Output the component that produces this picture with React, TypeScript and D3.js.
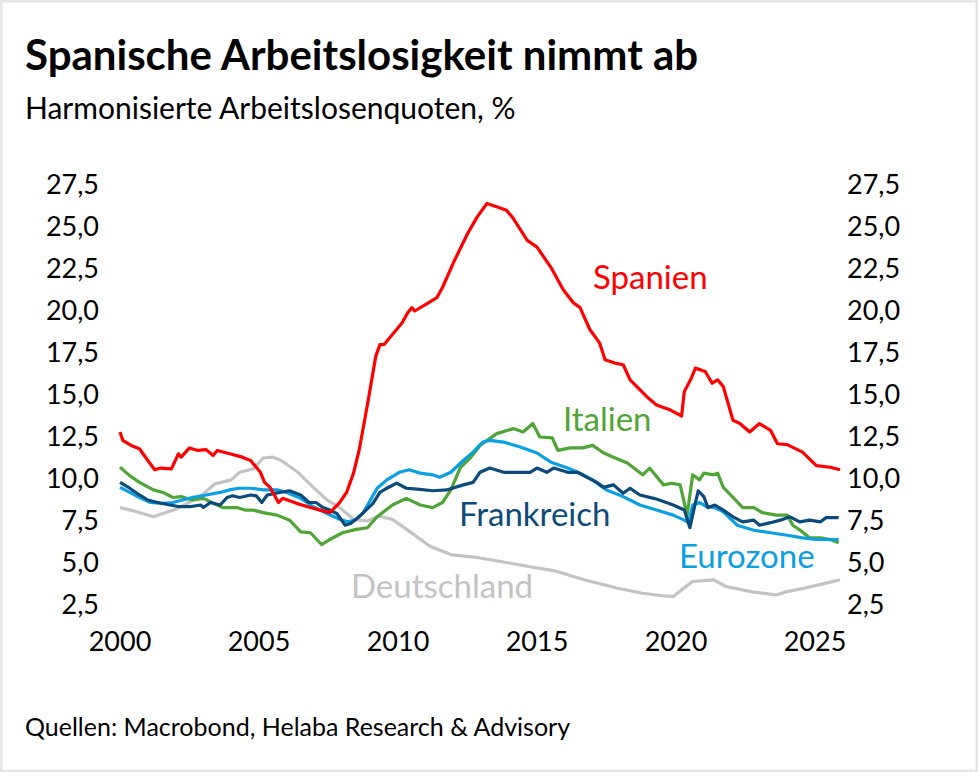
import React from "react";
import * as d3 from "d3";

type Pt = [number, number];

// Harmonisierte Arbeitslosenquoten in %, [Jahr, Wert]
const spanien: Pt[] = [
  [2000.0, 12.8], [2000.1, 12.3], [2000.4, 12.0], [2000.7, 11.8], [2001.0, 11.1], [2001.25, 10.55],
  [2001.45, 10.65], [2001.85, 10.6], [2002.1, 11.5], [2002.2, 11.3], [2002.5, 11.85], [2002.8, 11.7],
  [2003.1, 11.75], [2003.35, 11.4], [2003.5, 11.7], [2003.95, 11.5], [2004.4, 11.3], [2004.7, 11.1],
  [2005.05, 10.4], [2005.2, 9.8], [2005.4, 9.5], [2005.7, 8.6], [2005.85, 8.85], [2006.35, 8.55],
  [2006.85, 8.3], [2007.3, 8.1], [2007.55, 8.0], [2007.9, 8.6], [2008.15, 9.2], [2008.4, 10.35],
  [2008.6, 11.7], [2008.8, 13.5], [2008.95, 14.9], [2009.2, 17.3], [2009.35, 18.0], [2009.5, 18.0],
  [2009.8, 18.6], [2010.15, 19.3], [2010.35, 19.9], [2010.5, 20.2], [2010.6, 20.0], [2011.0, 20.4],
  [2011.4, 20.8], [2011.6, 21.4], [2012.0, 22.9], [2012.5, 24.6], [2012.85, 25.6], [2013.2, 26.4],
  [2013.55, 26.2], [2013.9, 26.0], [2014.15, 25.5], [2014.65, 24.2], [2015.0, 23.8], [2015.5, 22.6],
  [2015.95, 21.25], [2016.3, 20.5], [2016.55, 20.2], [2016.9, 18.9], [2017.25, 18.1], [2017.45, 17.1],
  [2017.8, 16.9], [2018.1, 16.8], [2018.35, 15.9], [2018.95, 14.9], [2019.3, 14.4], [2019.8, 14.1],
  [2020.2, 13.75], [2020.3, 15.2], [2020.55, 16.0], [2020.7, 16.6], [2021.05, 16.4], [2021.3, 15.7],
  [2021.5, 15.9], [2021.7, 15.5], [2022.05, 13.5], [2022.3, 13.3], [2022.65, 12.8], [2023.0, 13.3],
  [2023.4, 12.9], [2023.65, 12.1], [2024.0, 12.05], [2024.55, 11.6], [2025.05, 10.8], [2025.55, 10.7],
  [2025.9, 10.55],
];

const italien: Pt[] = [
  [2000.0, 10.7], [2000.35, 10.2], [2000.7, 9.8], [2001.2, 9.35], [2001.55, 9.2], [2001.9, 8.9],
  [2002.2, 8.95], [2002.6, 8.75], [2003.0, 8.85], [2003.3, 8.6], [2003.7, 8.3], [2004.2, 8.3],
  [2004.5, 8.15], [2004.8, 8.15], [2005.15, 8.0], [2005.65, 7.85], [2006.1, 7.55], [2006.5, 6.85],
  [2006.85, 6.8], [2007.25, 6.1], [2007.55, 6.4], [2008.0, 6.8], [2008.5, 7.0], [2008.9, 7.1],
  [2009.25, 7.75], [2009.8, 8.45], [2010.3, 8.85], [2010.8, 8.45], [2011.25, 8.3], [2011.6, 8.6],
  [2011.9, 9.35], [2012.25, 10.7], [2012.6, 11.25], [2012.95, 12.0], [2013.55, 12.7], [2014.15, 13.0],
  [2014.5, 12.8], [2014.85, 13.3], [2015.1, 12.5], [2015.55, 12.45], [2015.75, 11.7], [2016.2, 11.85],
  [2016.65, 11.85], [2017.0, 12.0], [2017.4, 11.55], [2017.75, 11.3], [2018.25, 10.95], [2018.8, 10.25],
  [2019.05, 10.65], [2019.55, 9.65], [2019.85, 9.75], [2020.15, 9.65], [2020.4, 7.85], [2020.6, 10.25],
  [2020.85, 9.95], [2021.0, 10.35], [2021.35, 10.25], [2021.5, 10.35], [2021.7, 9.5], [2022.05, 8.9],
  [2022.4, 8.3], [2022.8, 8.3], [2023.1, 8.0], [2023.6, 7.85], [2024.0, 7.85], [2024.2, 7.25],
  [2024.55, 6.85], [2024.8, 6.5], [2025.2, 6.5], [2025.55, 6.4], [2025.85, 6.2],
];

const frankreich: Pt[] = [
  [2000.0, 9.8], [2000.35, 9.45], [2000.7, 9.05], [2001.0, 8.75], [2001.35, 8.6], [2001.8, 8.45],
  [2002.15, 8.35], [2002.5, 8.35], [2002.9, 8.45], [2003.0, 8.3], [2003.25, 8.6], [2003.6, 8.45],
  [2003.85, 8.9], [2004.05, 9.0], [2004.3, 8.9], [2004.7, 9.05], [2004.9, 9.0], [2005.1, 8.6],
  [2005.3, 9.05], [2005.75, 9.2], [2006.1, 9.3], [2006.5, 9.05], [2006.8, 8.6], [2007.05, 8.6],
  [2007.3, 8.3], [2007.55, 8.15], [2007.8, 7.95], [2008.1, 7.25], [2008.3, 7.35], [2008.6, 7.75],
  [2009.1, 8.55], [2009.35, 9.2], [2009.6, 9.45], [2009.95, 9.75], [2010.3, 9.45], [2010.7, 9.4],
  [2011.25, 9.3], [2011.75, 9.35], [2012.35, 9.65], [2012.7, 9.8], [2012.95, 10.4], [2013.3, 10.65],
  [2013.8, 10.4], [2014.3, 10.4], [2014.75, 10.4], [2015.0, 10.65], [2015.35, 10.4], [2015.6, 10.65],
  [2016.1, 10.4], [2016.45, 10.4], [2016.8, 10.1], [2017.15, 9.8], [2017.4, 9.5], [2017.75, 9.65],
  [2018.1, 9.15], [2018.35, 9.45], [2018.7, 9.05], [2019.2, 8.85], [2019.4, 8.75], [2019.9, 8.45],
  [2020.3, 8.15], [2020.5, 7.1], [2020.7, 8.6], [2020.8, 9.3], [2021.0, 8.95], [2021.15, 8.3],
  [2021.4, 8.45], [2021.7, 8.15], [2022.05, 7.75], [2022.4, 7.45], [2022.8, 7.55], [2023.0, 7.25],
  [2023.4, 7.4], [2023.75, 7.55], [2024.1, 7.75], [2024.45, 7.45], [2024.8, 7.55], [2025.2, 7.45],
  [2025.4, 7.7], [2025.85, 7.7],
];

const eurozone: Pt[] = [
  [2000.0, 9.5], [2000.35, 9.2], [2000.7, 8.9], [2001.1, 8.6], [2001.55, 8.55], [2001.9, 8.6],
  [2002.25, 8.75], [2002.6, 8.9], [2003.1, 9.05], [2003.6, 9.2], [2003.95, 9.35], [2004.25, 9.45],
  [2004.7, 9.45], [2005.15, 9.35], [2005.65, 9.35], [2006.0, 9.2], [2006.5, 8.85], [2006.95, 8.35],
  [2007.45, 7.95], [2007.9, 7.6], [2008.2, 7.45], [2008.45, 7.55], [2008.75, 8.0], [2009.25, 9.45],
  [2009.6, 9.95], [2010.05, 10.4], [2010.4, 10.55], [2010.8, 10.35], [2011.25, 10.25], [2011.5, 10.1],
  [2011.9, 10.4], [2012.35, 11.1], [2012.7, 11.6], [2013.05, 12.2], [2013.3, 12.3], [2013.8, 12.2],
  [2014.4, 11.9], [2015.0, 11.55], [2015.5, 11.0], [2016.1, 10.65], [2016.55, 10.35], [2017.0, 9.95],
  [2017.5, 9.35], [2018.1, 8.95], [2018.7, 8.45], [2019.3, 8.15], [2019.9, 7.85], [2020.3, 7.55],
  [2020.45, 7.4], [2020.6, 8.45], [2020.85, 8.6], [2021.1, 8.35], [2021.4, 8.3], [2021.7, 8.05],
  [2022.2, 7.25], [2022.8, 6.95], [2023.4, 6.8], [2024.0, 6.65], [2024.55, 6.5], [2025.05, 6.4],
  [2025.85, 6.4],
];

const deutschland: Pt[] = [
  [2000.0, 8.3], [2000.5, 8.1], [2001.2, 7.75], [2002.0, 8.2], [2002.6, 8.7], [2003.0, 9.1],
  [2003.4, 9.7], [2004.0, 9.95], [2004.3, 10.4], [2004.8, 10.6], [2005.15, 11.25], [2005.5, 11.3],
  [2005.8, 11.1], [2006.4, 10.4], [2006.95, 9.5], [2007.45, 8.75], [2007.9, 8.3], [2008.4, 7.6],
  [2008.9, 7.5], [2009.3, 7.8], [2009.8, 7.6], [2010.4, 6.9], [2011.15, 6.0], [2011.9, 5.5],
  [2012.95, 5.3], [2014.0, 5.0], [2015.0, 4.7], [2015.6, 4.55], [2016.7, 4.0], [2017.9, 3.5],
  [2018.8, 3.2], [2019.5, 3.05], [2019.9, 3.0], [2020.2, 3.4], [2020.6, 3.9], [2021.35, 4.0],
  [2021.8, 3.6], [2022.7, 3.3], [2023.6, 3.1], [2024.0, 3.3], [2024.6, 3.5], [2025.4, 3.8],
  [2025.9, 4.0],
];

const yTicks = [2.5, 5, 7.5, 10, 12.5, 15, 17.5, 20, 22.5, 25, 27.5];
const xTicks = [2000, 2005, 2010, 2015, 2020, 2025];

const FONT = "Lato, 'Noto Sans', sans-serif";

export default function App() {
  const W = 978;
  const H = 772;

  const x = d3.scaleLinear().domain([2000, 2025]).range([120, 815]);
  const y = d3.scaleLinear().domain([2.5, 27.5]).range([605, 185]);

  const line = d3
    .line<Pt>()
    .x((d) => x(d[0]))
    .y((d) => y(d[1]));

  const fmt = (v: number) => v.toFixed(1).replace(".", ",");

  // Reihenfolge: hinten -> vorne
  const series = [
    { name: "Deutschland", data: deutschland, color: "#c3c3c3", lx: 351, ly: 598 },
    { name: "Italien", data: italien, color: "#4fa535", lx: 563, ly: 431 },
    { name: "Eurozone", data: eurozone, color: "#0aa0e2", lx: 679, ly: 568 },
    { name: "Frankreich", data: frankreich, color: "#0b4a7b", lx: 459, ly: 526 },
    { name: "Spanien", data: spanien, color: "#ff0000", lx: 593, ly: 289 },
  ];

  return (
    <svg
      width={W}
      height={H}
      style={{ position: "absolute", left: 0, top: 0, fontFamily: FONT }}
    >
      <rect x={0} y={0} width={W} height={H} fill="#ffffff" />
      <rect x={1} y={1} width={W - 2} height={H - 2} fill="none" stroke="#e6e6e6" strokeWidth={3} />

      <text x={25} y={70} fontSize={42} fontWeight={700} fill="#000">
        Spanische Arbeitslosigkeit nimmt ab
      </text>
      <text x={25} y={119} fontSize={30} fill="#000">
        Harmonisierte Arbeitslosenquoten, %
      </text>

      {yTicks.map((t) => (
        <g key={t}>
          <text x={99} y={y(t) + 9} fontSize={27} textAnchor="end" fill="#000">
            {fmt(t)}
          </text>
          <text x={847} y={y(t) + 9} fontSize={27} textAnchor="start" fill="#000">
            {fmt(t)}
          </text>
        </g>
      ))}

      {xTicks.map((t) => (
        <text key={t} x={x(t)} y={651} fontSize={27} textAnchor="middle" fill="#000">
          {t}
        </text>
      ))}

      {series.map((s) => (
        <path
          key={s.name}
          d={line(s.data) || ""}
          fill="none"
          stroke={s.color}
          strokeWidth={3.2}
          strokeLinejoin="round"
        />
      ))}

      {series.map((s) => (
        <text key={s.name + "-l"} x={s.lx} y={s.ly} fontSize={33} fill={s.color}>
          {s.name}
        </text>
      ))}

      <text x={25} y={736} fontSize={25} fill="#000">
        Quellen: Macrobond, Helaba Research &amp; Advisory
      </text>
    </svg>
  );
}
